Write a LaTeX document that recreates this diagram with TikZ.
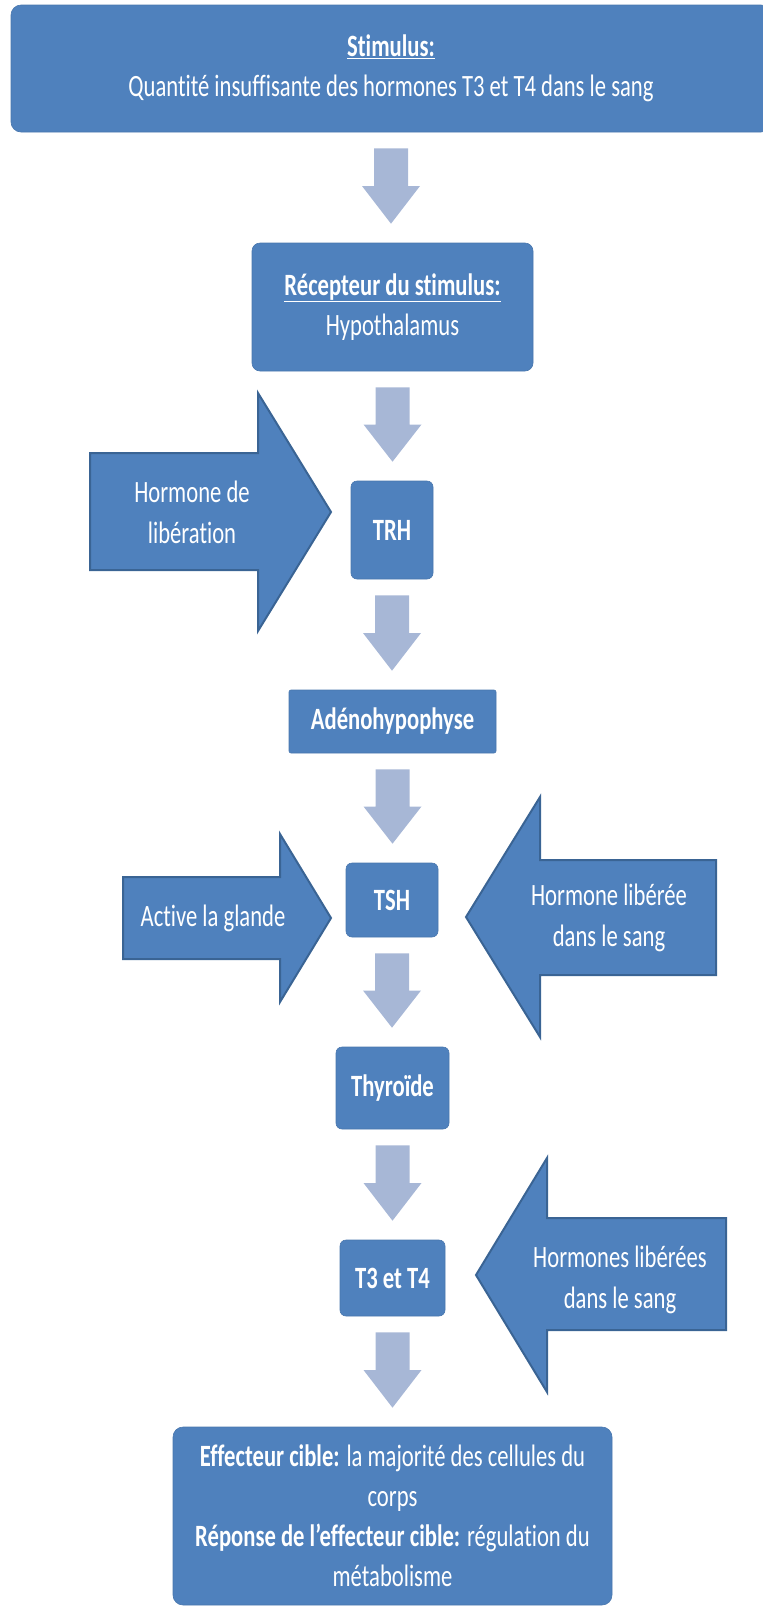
\documentclass[tikz,border=0pt]{standalone}
\usepackage{fontspec}
\setmainfont{Carlito}[FakeStretch=0.73, Ligatures=NoCommon]
\usetikzlibrary{calc}
\definecolor{bleu}{HTML}{4F81BD}
\definecolor{bleufonce}{HTML}{3A6494}
\definecolor{gris}{HTML}{A7B7D6}
\tikzset{
  boite/.style={fill=bleu, draw=bleu!92!black, line width=0.6pt, rounded corners=6pt,
    text=white, align=center, inner sep=0pt, font=\fontsize{31}{40}\selectfont},
  grosse/.style={fill=bleu, draw=bleufonce, line width=2pt, line join=miter},
  texte/.style={text=white, align=center, font=\fontsize{31}{41}\selectfont}
}
% fleche grise d'un noeud au suivant
\newcommand{\fleche}[2]{%
  \fill[gris] let \p1=([yshift=-16pt]#1.south), \p2=([yshift=19pt]#2.north) in
    (\x1-17pt,\y1) -- (\x1-17pt,{(\y1+\y2)/2}) -- (\x1-29pt,{(\y1+\y2)/2})
    -- (\x1,\y2) -- (\x1+29pt,{(\y1+\y2)/2}) -- (\x1+17pt,{(\y1+\y2)/2})
    -- (\x1+17pt,\y1) -- cycle;}
\begin{document}
\begin{tikzpicture}[x=1pt, y=-1pt]
    \useasboundingbox (0,0) rectangle (763,1607);
    % boites
    \node[boite, rounded corners=10pt, minimum width=760, minimum height=127] (stim) at (391,68.5)
        {\underline{\textbf{Stimulus:}}\\Quantité insuffisante des hormones T3 et T4 dans le sang};
    \node[boite, rounded corners=8pt, minimum width=281, minimum height=128] (recep) at (392.5,307)
        {\underline{\textbf{Récepteur du stimulus:}}\\Hypothalamus};
    \node[boite, minimum width=82, minimum height=98] (trh) at (392,530) {\textbf{TRH}};
    \node[boite, rounded corners=2pt, minimum width=207, minimum height=63] (adeno) at (392.5,721.5) {\textbf{Adénohypophyse}};
    \node[boite, minimum width=92, minimum height=74] (tsh) at (392,900) {\textbf{TSH}};
    \node[boite, minimum width=113, minimum height=82] (thyro) at (392.5,1088) {\textbf{Thyroïde}};
    \node[boite, minimum width=105, minimum height=76] (t3t4) at (392.5,1278) {\textbf{T3 et T4}};
    \node[boite, rounded corners=10pt, minimum width=439, minimum height=178] (effet) at (392.5,1516)
        {\textbf{Effecteur cible:} la majorité des cellules du\\corps\\
         \textbf{Réponse de l’effecteur cible:} régulation du\\métabolisme};
    % fleches grises
    \fleche{stim}{recep}
    \fleche{recep}{trh}
    \fleche{trh}{adeno}
    \fleche{adeno}{tsh}
    \fleche{tsh}{thyro}
    \fleche{thyro}{t3t4}
    \fleche{t3t4}{effet}
    % grosses fleches
    \draw[grosse] (90,453) -- (258,453) -- (258,393) -- (331,512) -- (258,631) -- (258,570) -- (90,570) -- cycle;
    \draw[grosse] (123,877) -- (280,877) -- (280,834) -- (331,918) -- (280,1002) -- (280,959) -- (123,959) -- cycle;
    \draw[grosse] (716,860) -- (540,860) -- (540,797) -- (466,917) -- (540,1037) -- (540,975) -- (716,975) -- cycle;
    \draw[grosse] (726,1218) -- (547,1218) -- (547,1158) -- (476,1275) -- (547,1392) -- (547,1330) -- (726,1330) -- cycle;
    \node[texte] (liberation) at (192,512) {Hormone de\\libération};
    \node[texte] (active) at (213,918) {Active la glande};
    \node[texte] (liberee) at (609,918) {Hormone libérée\\dans le sang};
    \node[texte] (liberees) at (620,1280) {Hormones libérées\\dans le sang};
\end{tikzpicture}
\end{document}
